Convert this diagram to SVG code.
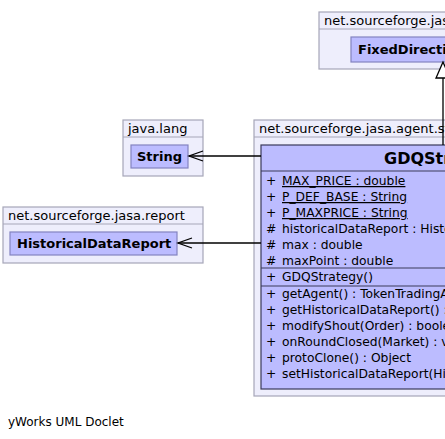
<svg xmlns="http://www.w3.org/2000/svg" width="445" height="439" viewBox="0 0 445 439">
<style>
.pkg{fill:#eeeefc;stroke:#a6a6b8;stroke-width:1.2}
.hdr{stroke:#a6a6b8;stroke-width:1.2}
.cls{fill:#bcbcff;stroke:#8484c0;stroke-width:1.2}
.main{fill:#bcbcff;stroke:#3a3a5a;stroke-width:1.2}
.sep{stroke:#3a3a5a;stroke-width:1.2}
text{font-family:"DejaVu Sans",sans-serif;font-size:12px;fill:#000}
.m text{font-size:12.3px}
text.p{font-size:13px}
text.b{font-weight:bold;font-size:13px}
.u{text-decoration:underline}
.edge{stroke:#000;stroke-width:1.3;fill:none}
</style>
<rect width="445" height="439" fill="#fff"/>
<g id="pkg-jasa">
<rect class="pkg" x="319" y="12" width="140" height="57"/>
<line class="hdr" x1="319" y1="29" x2="459" y2="29"/>
<text class="p" x="324" y="25">net.sourceforge.jasa</text>
</g>
<g id="FixedDirectionStrategy">
<rect class="cls" x="351" y="37" width="170" height="25"/>
<text class="b" x="358" y="54">FixedDirectionStrategy</text>
</g>
<g id="pkg-java-lang">
<rect class="pkg" x="123" y="120" width="80" height="56"/>
<line class="hdr" x1="123" y1="137" x2="203" y2="137"/>
<text class="p" x="128" y="133">java.lang</text>
</g>
<g id="String">
<rect class="cls" x="131" y="145" width="57" height="23"/>
<text class="b" x="137" y="161">String</text>
</g>
<g id="pkg-report">
<rect class="pkg" x="3" y="207" width="200" height="56"/>
<line class="hdr" x1="3" y1="224" x2="203" y2="224"/>
<text class="p" x="8" y="220">net.sourceforge.jasa.report</text>
</g>
<g id="HistoricalDataReport">
<rect class="cls" x="10" y="232" width="167" height="23"/>
<text class="b" x="17" y="248">HistoricalDataReport</text>
</g>
<g id="pkg-agent">
<rect class="pkg" x="254" y="120" width="260" height="276"/>
<line class="hdr" x1="254" y1="137" x2="514" y2="137"/>
<text class="p" x="259" y="133">net.sourceforge.jasa.agent.strategy</text>
</g>
<g id="GDQStrategy">
<rect class="main" x="261" y="145" width="364" height="244"/>
<line class="sep" x1="261" y1="171" x2="625" y2="171"/>
<line class="sep" x1="261" y1="268" x2="625" y2="268"/>
<line class="sep" x1="261" y1="286" x2="625" y2="286"/>
<text class="b" x="384" y="164" style="font-size:16px">GDQStrategy</text>
<g class="m">
<text x="266" y="185">+</text><text class="u" x="282" y="185">MAX_PRICE : double</text>
<text x="266" y="201">+</text><text class="u" x="282" y="201">P_DEF_BASE : String</text>
<text x="266" y="217">+</text><text class="u" x="282" y="217">P_MAXPRICE : String</text>
<text x="266" y="233">#</text><text x="282" y="233">historicalDataReport : HistoricalDataReport</text>
<text x="266" y="249">#</text><text x="282" y="249">max : double</text>
<text x="266" y="265">#</text><text x="282" y="265">maxPoint : double</text>
<text x="266" y="281">+</text><text x="282" y="281">GDQStrategy()</text>
<text x="266" y="298">+</text><text x="282" y="298">getAgent() : TokenTradingAgent</text>
<text x="266" y="314">+</text><text x="282" y="314">getHistoricalDataReport() : HistoricalDataReport</text>
<text x="266" y="330">+</text><text x="282" y="330">modifyShout(Order) : boolean</text>
<text x="266" y="346">+</text><text x="282" y="346">onRoundClosed(Market) : void</text>
<text x="266" y="362">+</text><text x="282" y="362">protoClone() : Object</text>
<text x="266" y="378">+</text><text x="282" y="378">setHistoricalDataReport(HistoricalDataReport) : void</text>
</g>
</g>
<g id="connectors">
<line class="edge" x1="443" y1="145" x2="443" y2="78"/>
<polygon points="443,62 436,78 450,78" fill="#fff" stroke="#000" stroke-width="1.3"/>
<line class="edge" x1="261" y1="156" x2="189" y2="156"/>
<polyline class="edge" points="203,151 189,156 203,161"/>
<line class="edge" x1="261" y1="243" x2="178" y2="243"/>
<polyline class="edge" points="192,238 178,243 192,248"/>
</g>
<text x="8" y="426">yWorks UML Doclet</text>
</svg>
